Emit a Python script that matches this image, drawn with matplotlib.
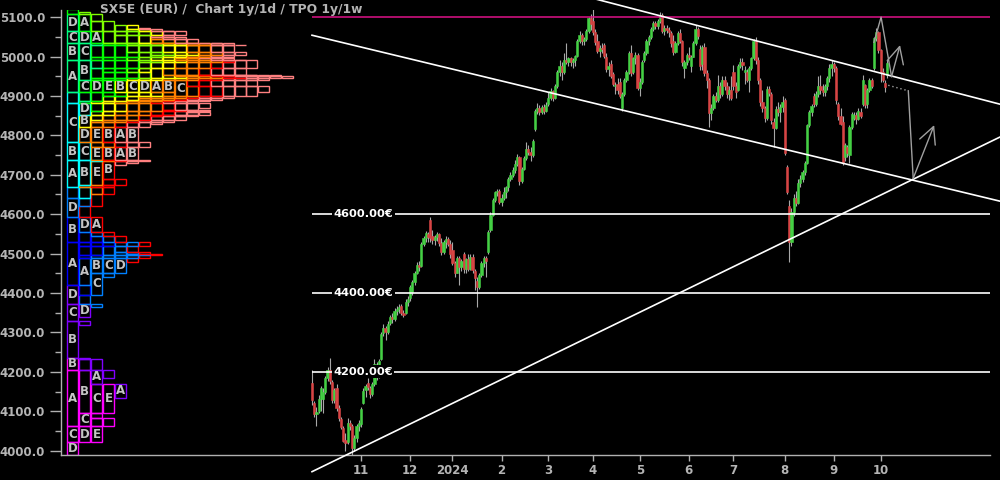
import matplotlib
matplotlib.use('Agg')
import matplotlib.pyplot as plt
from matplotlib.patches import Rectangle
from matplotlib.ticker import MultipleLocator, FormatStrFormatter
import numpy as np
import pandas as pd

plt.rcParams['font.family'] = ['DejaVu Sans']
plt.rcParams['font.weight'] = 'bold'

title = "SX5E (EUR) /  Chart 1y/1d / TPO 1y/1w"
first_day = '2023-10-02'
last_day = '2024-10-04'
holidays = ['2023-12-25', '2023-12-26', '2024-01-01', '2024-03-29', '2024-04-01', '2024-05-01']

opens = [
    4172, 4120, 4092, 4100, 4130, 4130, 4150, 4185, 4205, 4175, 4128, 4160, 4108, 4080, 4058, 4028, 4022, 4070, 4062, 4008, 4032, 4062,
    4068, 4120, 4155, 4172, 4160, 4145, 4170, 4218, 4195, 4232, 4298, 4312, 4300, 4325, 4340, 4335, 4355, 4360, 4368, 4350, 4348, 4378,
    4388, 4402, 4428, 4452, 4470, 4468, 4525, 4540, 4550, 4585, 4545, 4535, 4542, 4550, 4528, 4505, 4530, 4538, 4525,
    4510, 4475, 4452, 4488, 4465, 4500, 4460, 4485, 4462, 4492, 4455, 4430, 4415, 4445, 4476, 4490, 4505, 4560, 4598, 4635, 4655, 4660,
    4630, 4640, 4655, 4668, 4690, 4700, 4712, 4728, 4745, 4685, 4715, 4742, 4765, 4758, 4750, 4815, 4862, 4870, 4860, 4872, 4862,
    4880, 4895, 4912, 4895, 4925, 4960, 4975, 4960, 4990, 4985, 4995, 4985, 4990, 5002, 5040, 5055, 5040, 5045, 5065, 5097,
    5090, 5062, 5040, 5015, 5022, 5030, 5000, 4968, 4980, 4955, 4925, 4930, 4935, 4870, 4905, 4940, 4960, 5010, 4960, 4995, 5005,
    4920, 4935, 4990, 5010, 5040, 5050, 5070, 5085, 5078, 5090, 5105, 5065, 5072, 5068, 5060, 5040, 5012, 5035, 5060, 5040, 4970, 4985,
    5005, 4975, 5000, 5035, 5070, 5020, 4980, 5025, 4958, 4940, 4856, 4870, 4900, 4890, 4925, 4905, 4940, 4925, 4905, 4915,
    4960, 4925, 4915, 4975, 4985, 4960, 4960, 4940, 4970, 4995, 5040, 4990, 4940, 4885, 4870, 4845, 4918, 4905, 4835, 4818, 4868, 4860, 4872,
    4889, 4720, 4620, 4530, 4605, 4640, 4628, 4680, 4688, 4707, 4730, 4826, 4860, 4900, 4880, 4905, 4925, 4915, 4910, 4925, 4945, 4970,
    4980, 4970, 4880, 4850, 4835, 4745, 4770, 4750, 4820, 4845, 4852, 4842, 4860, 4880, 4927, 4880, 4915, 4940, 4971, 5047, 5062,
    5016, 4960, 4932, 4953,
]
highs = [
    4205, 4125, 4110, 4140, 4165, 4160, 4190, 4212, 4235, 4180, 4160, 4170, 4115, 4085, 4062, 4045, 4083, 4078, 4068, 4040, 4068, 4078,
    4112, 4160, 4170, 4185, 4165, 4175, 4232, 4225, 4232, 4300, 4322, 4316, 4330, 4345, 4348, 4362, 4368, 4372, 4372, 4358, 4385, 4392,
    4420, 4432, 4455, 4478, 4480, 4530, 4545, 4558, 4555, 4593, 4560, 4548, 4555, 4552, 4540, 4535, 4545, 4542, 4535,
    4530, 4480, 4495, 4495, 4485, 4505, 4490, 4500, 4500, 4500, 4462, 4440, 4452, 4480, 4495, 4495, 4560, 4605, 4640, 4660, 4665, 4665,
    4650, 4668, 4672, 4695, 4708, 4720, 4737, 4752, 4748, 4720, 4748, 4782, 4775, 4770, 4790, 4868, 4882, 4878, 4878, 4880, 4885,
    4910, 4920, 4915, 4930, 4965, 4991, 4985, 5010, 5034, 5000, 5000, 4995, 5005, 5045, 5064, 5060, 5050, 5070, 5100, 5107,
    5120, 5070, 5058, 5030, 5035, 5035, 5010, 4985, 4990, 4960, 4935, 4945, 4945, 4910, 4945, 4965, 5015, 5030, 5000, 5012, 5010,
    4945, 4990, 5015, 5045, 5055, 5075, 5090, 5090, 5095, 5112, 5110, 5080, 5080, 5075, 5065, 5055, 5040, 5065, 5070, 5042, 4990, 5010,
    5025, 5005, 5040, 5080, 5075, 5030, 5030, 5035, 4965, 4945, 4880, 4905, 4910, 4952, 4935, 4950, 4950, 4935, 4925, 4950,
    4978, 4935, 4980, 4995, 4995, 4975, 4968, 4975, 5000, 5045, 5050, 5000, 4945, 4915, 4875, 4925, 4925, 4910, 4845, 4875, 4885, 4880, 4900,
    4895, 4725, 4635, 4615, 4650, 4660, 4690, 4700, 4712, 4735, 4830, 4865, 4880, 4908, 4912, 4950, 4954, 4930, 4930, 4950, 4980, 4990,
    4985, 4975, 4885, 4870, 4850, 4780, 4775, 4825, 4860, 4860, 4858, 4870, 4870, 4952, 4930, 4920, 4945, 4945, 5050, 5072, 5065,
    5020, 4970, 4940, 4990,
]
lows = [
    4115, 4085, 4062, 4095, 4100, 4096, 4145, 4178, 4170, 4120, 4120, 4100, 4075, 4055, 4021, 4000, 4018, 4052, 3990, 3998, 4021, 4050,
    4060, 4118, 4135, 4155, 4133, 4138, 4165, 4180, 4185, 4230, 4290, 4282, 4295, 4320, 4325, 4330, 4345, 4350, 4345, 4338, 4346, 4368,
    4380, 4396, 4420, 4448, 4455, 4465, 4520, 4530, 4530, 4530, 4525, 4522, 4532, 4520, 4496, 4500, 4515, 4520, 4490,
    4470, 4440, 4450, 4420, 4455, 4452, 4450, 4455, 4458, 4452, 4407, 4364, 4410, 4440, 4465, 4441, 4500, 4555, 4595, 4630, 4645, 4625,
    4622, 4635, 4640, 4660, 4685, 4695, 4705, 4722, 4674, 4680, 4712, 4738, 4750, 4735, 4745, 4810, 4855, 4852, 4855, 4855, 4858,
    4875, 4890, 4888, 4892, 4920, 4950, 4940, 4955, 4980, 4975, 4975, 4970, 4975, 5000, 5035, 5030, 5028, 5040, 5060, 5068,
    5055, 5030, 5008, 5000, 5010, 4995, 4960, 4950, 4945, 4925, 4905, 4905, 4895, 4862, 4900, 4935, 4955, 4950, 4955, 4980, 4915,
    4900, 4930, 4985, 5005, 5030, 5045, 5065, 5070, 5070, 5085, 5060, 5055, 5060, 5050, 5025, 5005, 5008, 5030, 5035, 4975, 4945, 4978,
    4990, 4960, 4998, 5030, 5045, 4965, 4965, 4950, 4920, 4821, 4840, 4865, 4885, 4885, 4895, 4900, 4915, 4895, 4890, 4890,
    4915, 4895, 4912, 4970, 4965, 4930, 4935, 4910, 4965, 4990, 4980, 4930, 4875, 4860, 4835, 4840, 4900, 4830, 4770, 4815, 4850, 4835, 4860,
    4750, 4650, 4478, 4520, 4595, 4620, 4625, 4670, 4682, 4700, 4728, 4822, 4850, 4872, 4875, 4898, 4905, 4900, 4900, 4915, 4935, 4950,
    4960, 4880, 4840, 4825, 4725, 4735, 4745, 4730, 4815, 4838, 4830, 4838, 4845, 4875, 4870, 4870, 4910, 4920, 4965, 5040, 5010,
    4935, 4935, 4910, 4945,
]
closes = [
    4128, 4092, 4098, 4132, 4160, 4150, 4185, 4205, 4178, 4128, 4155, 4108, 4082, 4060, 4025, 4020, 4070, 4062, 4006, 4032, 4062, 4070,
    4105, 4152, 4165, 4162, 4145, 4168, 4220, 4195, 4228, 4296, 4312, 4300, 4322, 4340, 4335, 4355, 4360, 4365, 4350, 4345, 4378, 4385,
    4415, 4428, 4450, 4470, 4466, 4525, 4540, 4552, 4542, 4540, 4535, 4542, 4550, 4528, 4505, 4530, 4538, 4525, 4500,
    4475, 4450, 4488, 4465, 4480, 4460, 4485, 4462, 4492, 4458, 4438, 4415, 4445, 4476, 4490, 4480, 4555, 4598, 4635, 4655, 4660, 4630,
    4640, 4655, 4668, 4690, 4700, 4712, 4728, 4745, 4685, 4715, 4742, 4765, 4758, 4750, 4785, 4862, 4870, 4860, 4872, 4862, 4878,
    4895, 4912, 4895, 4925, 4960, 4975, 4960, 4990, 4985, 4995, 4985, 4990, 5002, 5040, 5055, 5040, 5045, 5065, 5097, 5082,
    5062, 5036, 5015, 5022, 5020, 5002, 4968, 4975, 4950, 4930, 4928, 4915, 4900, 4905, 4940, 4960, 5010, 4958, 4995, 5005, 4921,
    4935, 4985, 5010, 5040, 5050, 5070, 5085, 5078, 5090, 5105, 5065, 5072, 5068, 5062, 5035, 5012, 5035, 5060, 5040, 4985, 4985, 5005,
    4998, 5000, 5035, 5070, 5052, 4975, 5025, 4958, 4940, 4856, 4870, 4900, 4890, 4925, 4905, 4940, 4925, 4905, 4915, 4895,
    4925, 4910, 4975, 4985, 4978, 4965, 4940, 4970, 4995, 5040, 4990, 4940, 4885, 4870, 4845, 4918, 4908, 4840, 4818, 4868, 4860, 4872, 4885,
    4755, 4656, 4530, 4605, 4640, 4628, 4680, 4690, 4707, 4730, 4826, 4860, 4875, 4880, 4905, 4925, 4915, 4910, 4925, 4945, 4970, 4980,
    4970, 4889, 4850, 4830, 4730, 4775, 4755, 4820, 4855, 4852, 4842, 4862, 4848, 4940, 4877, 4915, 4940, 4925, 5047, 5062, 5016,
    4960, 4940, 4922, 4983,
]

levels = [4600, 4400, 4200]
level_labels = ['4600.00€', '4400.00€', '4200.00€']
year_high_level = 5101

# trend lines: (trading-day index, price)
channel_upper = [(120.0, 5156.4), (312.0, 4873.9)]
channel_lower = [(0.0, 5054.0), (312.0, 4628.2)]
support_line = [(0.0, 3946.7), (312.0, 4805.3)]

# projected path sketch: (trading-day index, price)
sketch_peak_x = [252.0, 255.2, 259.9]
sketch_peak_y = [5036, 5100, 4949]
sketch_arrow1 = [(259.9, 4949), (263.7, 5029)]
sketch_dots = [(258.4, 4927), (267.4, 4913)]
sketch_drop = [(267.4, 4913), (269.6, 4691)]
sketch_arrow2 = [(269.6, 4691), (279.0, 4826)]

month_colors = ['#ff00ff', '#8000ff', '#0000ff', '#0080ff', '#00ffff', '#00ff80',
                '#00ff00', '#80ff00', '#ffff00', '#ff8000', '#ff0000', '#ff8080', '#ffc0c0']
tpo_letters = 'ABCDEF'

# ---------------------------------------------------------------------------
dates = pd.bdate_range(first_day, last_day)
dates = dates[~dates.isin(pd.to_datetime(holidays))]
n = min(len(dates), len(closes))
df = pd.DataFrame({'date': dates[:n], 'o': opens[:n], 'h': highs[:n],
                   'l': lows[:n], 'c': closes[:n]})
df['idx'] = np.arange(n)
df['monday'] = df['date'] - pd.to_timedelta(df['date'].dt.weekday, unit='D')

wk = df.groupby('monday').agg(lo=('l', 'min'), hi=('h', 'max')).reset_index()
wk['m'] = (wk['monday'].dt.year - 2023) * 12 + wk['monday'].dt.month - 10
wk['letter'] = wk.groupby('m').cumcount()

GRAY = '#b4b4b4'
fig = plt.figure(figsize=(10, 4.8), dpi=100, facecolor='black')
ax = fig.add_axes([0.061, 1 - 455 / 480, 0.929, (455 - 10) / 480])
ax.set_facecolor('black')
ax.set_xlim(-112.56, 304.04)
ax.set_ylim(3989, 5118)

# ---------------- TPO profile ----------------
tpo_x0 = -110.0
tpo_w = 5.36
inset = 0.22
bounds = np.unique(np.concatenate([wk['lo'].values, wk['hi'].values]))
lo_arr = wk['lo'].values
hi_arr = wk['hi'].values
boxes = []
open_boxes = {}
for b0, b1 in zip(bounds[:-1], bounds[1:]):
    mid = 0.5 * (b0 + b1)
    cover = [i for i in range(len(wk)) if lo_arr[i] <= mid <= hi_arr[i]]
    new_open = {}
    for col, w in enumerate(cover):
        if col in open_boxes and open_boxes[col][0] == w:
            box = open_boxes.pop(col)
            box[2] = b1
            new_open[col] = box
        else:
            new_open[col] = [w, b0, b1]
    for col, box in open_boxes.items():
        boxes.append((col, *box))
    open_boxes = new_open
for col, box in open_boxes.items():
    boxes.append((col, *box))

for col, w, y0, y1 in boxes:
    color = month_colors[int(wk['m'][w]) % len(month_colors)]
    x = tpo_x0 + col * tpo_w
    ax.add_patch(Rectangle((x + inset, y0), tpo_w - 2 * inset, y1 - y0,
                           fill=False, edgecolor=color, linewidth=1.0, zorder=2))
    if y1 - y0 >= 30:
        ax.text(x + tpo_w / 2, (y0 + y1) / 2, tpo_letters[int(wk['letter'][w])],
                color='#c4c4c4', fontsize=8.5, ha='center', va='center', zorder=3)

# ---------------- candles ----------------
idx = df['idx'].values
o = df['o'].values
c = df['c'].values
up = c >= o
body_bottom = np.minimum(o, c)
body_h = np.maximum(np.abs(c - o), 2.0)
body_colors = np.where(up, '#44d044', '#d84444')
ax.vlines(idx, df['l'].values, df['h'].values, color='#a8a8a8', linewidth=0.8, zorder=4)
ax.bar(idx, body_h, bottom=body_bottom, width=1.0, color=body_colors,
       edgecolor=body_colors, linewidth=0.4, zorder=5)

# ---------------- levels ----------------
xr = ax.get_xlim()[1]
ax.hlines(year_high_level, 0, xr, color='#dd1188', linewidth=1.1, zorder=6)
for lv, lab in zip(levels, level_labels):
    ax.hlines(lv, 0, xr, color='white', linewidth=1.2, zorder=6)
    ax.text(9.6, lv, lab, color='white', fontsize=8.2, ha='left', va='center', zorder=8,
            bbox=dict(facecolor='black', edgecolor='none', boxstyle='square,pad=0.12'))

for line in (channel_upper, channel_lower, support_line):
    (x0, y0), (x1, y1) = line
    ax.plot([x0, x1], [y0, y1], color='white', linewidth=1.2, zorder=7, clip_on=False)

# ---------------- sketch ----------------
SK = '#a0a0a0'
ax.plot(sketch_peak_x, sketch_peak_y, color=SK, linewidth=1.0, zorder=7, clip_on=False)
ax.plot([p[0] for p in sketch_dots], [p[1] for p in sketch_dots], color=SK,
        linewidth=1.0, linestyle=(0, (1, 2)), zorder=7, clip_on=False)
ax.plot([p[0] for p in sketch_drop], [p[1] for p in sketch_drop], color=SK,
        linewidth=1.0, zorder=7, clip_on=False)
for start, tip in (sketch_arrow1, sketch_arrow2):
    ax.annotate('', xy=tip, xytext=start, annotation_clip=False, zorder=7,
                arrowprops=dict(arrowstyle='->,head_length=1.0,head_width=0.5',
                                color=SK, lw=1.0, mutation_scale=12,
                                shrinkA=0, shrinkB=0))

# ---------------- axes styling ----------------
for side in ('top', 'right'):
    ax.spines[side].set_visible(False)
for side in ('left', 'bottom'):
    ax.spines[side].set_color('#b0b0b0')
    ax.spines[side].set_linewidth(1.0)

ax.yaxis.set_major_locator(MultipleLocator(100))
ax.yaxis.set_minor_locator(MultipleLocator(50))
ax.yaxis.set_major_formatter(FormatStrFormatter('%.1f'))

month_start = df.groupby([df['date'].dt.year, df['date'].dt.month])['idx'].min()
tick_pos, tick_lab = [], []
for (yy, mm), i in month_start.items():
    if i == 0:
        continue
    tick_pos.append(i)
    tick_lab.append(str(yy) if mm == 1 else str(mm))
ax.set_xticks(tick_pos)
ax.set_xticklabels(tick_lab)

ax.tick_params(axis='y', which='major', length=7.9, width=1.0, color='#b0b0b0',
               pad=3.6, labelsize=8.5, labelcolor=GRAY)
ax.tick_params(axis='y', which='minor', length=4.3, width=1.0, color='#b0b0b0')
ax.tick_params(axis='x', which='major', length=4.3, width=1.0, color='#b0b0b0',
               pad=2.5, labelsize=8.5, labelcolor=GRAY)

fig.text(0.100, 1 - 10 / 480, title, color=GRAY, fontsize=8.8, ha='left', va='center')

fig.savefig('out.png', dpi=100, facecolor='black')
